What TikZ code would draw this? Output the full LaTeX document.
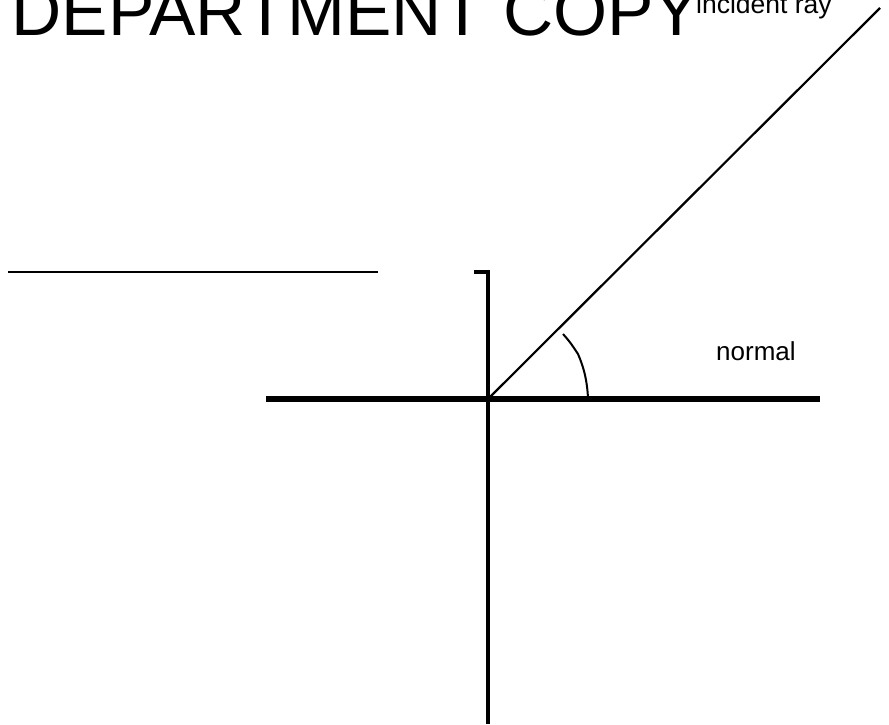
\documentclass[tikz,border=0pt]{standalone}
\usepackage{fontspec}
\setmainfont{Liberation Sans}
\begin{document}
\begin{tikzpicture}[x=1pt, y=-1pt]
    \useasboundingbox (0,0) rectangle (889,724);

    % Titik-titik utama
    \coordinate (O) at (488,399);
    \coordinate (sinarUjung) at (880,8);
    \coordinate (cerminKiri) at (266,399);
    \coordinate (cerminKanan) at (820,399);
    \coordinate (tegakAtas) at (488,272);
    \coordinate (tegakBawah) at (488,724);
    \coordinate (kait) at (474,272);
    \coordinate (garisKiri) at (8,272);
    \coordinate (garisKanan) at (378,272);
    \coordinate (busurAtas) at (563,334);
    \coordinate (busurTengah) at (578,354);
    \coordinate (busurBawah) at (588,398);

    % Judul dan label
    \node[anchor=base west, inner sep=0, font=\fontsize{69.5}{80}\selectfont] (judul) at (11.5,35) {DEPARTMENT COPY};
    \node[anchor=base west, inner sep=0, font=\fontsize{26.5}{30}\selectfont] (labelSinar) at (696,13) {incident ray};
    \node[anchor=base west, inner sep=0, font=\fontsize{26}{30}\selectfont] (labelNormal) at (716,360) {normal};

    % Garis-garis
    \draw[line width=2.7pt] (garisKiri) -- (garisKanan);
    \draw[line width=3.3pt] (kait) -- (tegakAtas) -- (tegakBawah);
    \draw[line width=6pt] (cerminKiri) -- (cerminKanan);
    \draw[line width=2.2pt] (O) -- (sinarUjung);

    % Busur sudut
    \draw[line width=2pt] (busurAtas) .. controls (570,342) .. (busurTengah)
        .. controls (584,368) and (587,380) .. (busurBawah);

\end{tikzpicture}
\end{document}
